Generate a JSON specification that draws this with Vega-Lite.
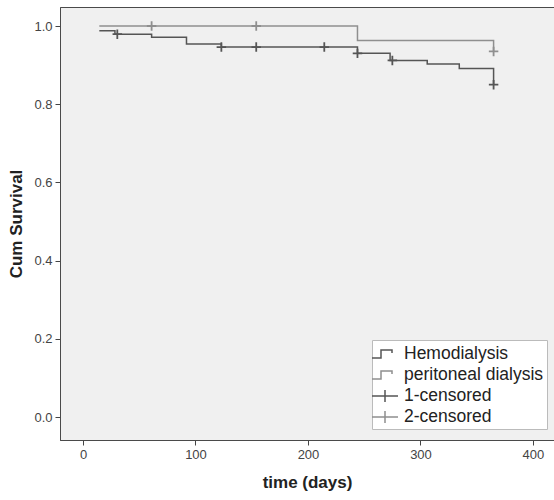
{
  "$schema": "https://vega.github.io/schema/vega-lite/v6.json",
  "autosize": "none",
  "width": 494,
  "height": 433,
  "padding": {"left": 60, "top": 7, "right": 0, "bottom": 60},
  "background": "white",
  "config": {
    "view": {"fill": "#f0f0f0", "stroke": "#4a4a4a", "strokeWidth": 1},
    "font": "Liberation Sans",
    "axis": {
      "labelFont": "Liberation Sans",
      "labelFontSize": 13,
      "labelColor": "#444444",
      "titleFont": "Liberation Sans",
      "titleFontSize": 17,
      "titleFontWeight": "bold",
      "titleColor": "#222222",
      "tickColor": "#444444",
      "tickSize": 5,
      "domainColor": "#4a4a4a",
      "grid": false
    }
  },
  "datasets": {
    "curves": [
      {"series": "Hemodialysis", "time": 14.5, "surv": 0.988},
      {"series": "Hemodialysis", "time": 28.4, "surv": 0.979},
      {"series": "Hemodialysis", "time": 61, "surv": 0.971},
      {"series": "Hemodialysis", "time": 92, "surv": 0.954},
      {"series": "Hemodialysis", "time": 123, "surv": 0.946},
      {"series": "Hemodialysis", "time": 244, "surv": 0.930},
      {"series": "Hemodialysis", "time": 273, "surv": 0.912},
      {"series": "Hemodialysis", "time": 306, "surv": 0.903},
      {"series": "Hemodialysis", "time": 334.5, "surv": 0.891},
      {"series": "Hemodialysis", "time": 365, "surv": 0.850},
      {"series": "peritoneal dialysis", "time": 14.5, "surv": 1.0},
      {"series": "peritoneal dialysis", "time": 244, "surv": 0.963},
      {"series": "peritoneal dialysis", "time": 365, "surv": 0.935}
    ],
    "censored": [
      {"series": "1-censored", "time": 30.5, "surv": 0.979},
      {"series": "1-censored", "time": 123, "surv": 0.946},
      {"series": "1-censored", "time": 154, "surv": 0.946},
      {"series": "1-censored", "time": 214.5, "surv": 0.946},
      {"series": "1-censored", "time": 244, "surv": 0.930},
      {"series": "1-censored", "time": 275, "surv": 0.912},
      {"series": "1-censored", "time": 365, "surv": 0.850},
      {"series": "2-censored", "time": 61, "surv": 1.0},
      {"series": "2-censored", "time": 154, "surv": 1.0},
      {"series": "2-censored", "time": 365, "surv": 0.935}
    ]
  },
  "layer": [
    {
      "data": {"name": "curves"},
      "mark": {"type": "line", "interpolate": "step-after", "strokeWidth": 1.5},
      "encoding": {
        "x": {
          "field": "time", "type": "quantitative",
          "scale": {"domain": [-20.44, 418.7], "nice": false, "zero": false},
          "axis": {"values": [0, 100, 200, 300, 400], "title": "time (days)", "labelPadding": 3, "titlePadding": 13}
        },
        "y": {
          "field": "surv", "type": "quantitative",
          "scale": {"domain": [-0.0588, 1.0486], "nice": false, "zero": false},
          "axis": {"values": [0, 0.2, 0.4, 0.6, 0.8, 1.0], "format": ".1f", "title": "Cum Survival", "labelPadding": 3, "titlePadding": 8}
        },
        "color": {
          "field": "series", "type": "nominal",
          "scale": {
            "domain": ["Hemodialysis", "peritoneal dialysis", "1-censored", "2-censored"],
            "range": ["#555555", "#8f8f8f", "#555555", "#8f8f8f"]
          },
          "legend": {
            "title": null,
            "orient": "none",
            "legendX": 312,
            "legendY": 333,
            "fillColor": "white",
            "strokeColor": "#bbbbbb",
            "padding": 3,
            "labelFont": "Liberation Sans",
            "labelFontSize": 17.5,
            "labelColor": "#222222",
            "labelOffset": 7,
            "rowPadding": 1,
            "symbolSize": 400,
            "symbolStrokeWidth": 1.5,
            "encode": {
              "symbols": {
                "update": {
                  "shape": {"signal": "indexof(['1-censored','2-censored'], datum.value) >= 0 ? 'M-1.4,0L1.2,0M-0.1,-0.6L-0.1,0.6' : 'M-1.4,0.4L-0.5,0.4L-0.5,-0.4L0.6,-0.4L0.6,-0.1'"},
                  "fill": {"value": "transparent"},
                  "size": {"value": 400},
                  "strokeWidth": {"value": 1.5}
                }
              }
            }
          }
        }
      }
    },
    {
      "data": {"name": "censored"},
      "mark": {"type": "point", "shape": "M-1,0L1,0M0,-1L0,1", "size": 90, "strokeWidth": 1.8, "filled": false, "opacity": 1},
      "encoding": {
        "x": {"field": "time", "type": "quantitative"},
        "y": {"field": "surv", "type": "quantitative"},
        "color": {"field": "series", "type": "nominal"}
      }
    }
  ]
}
